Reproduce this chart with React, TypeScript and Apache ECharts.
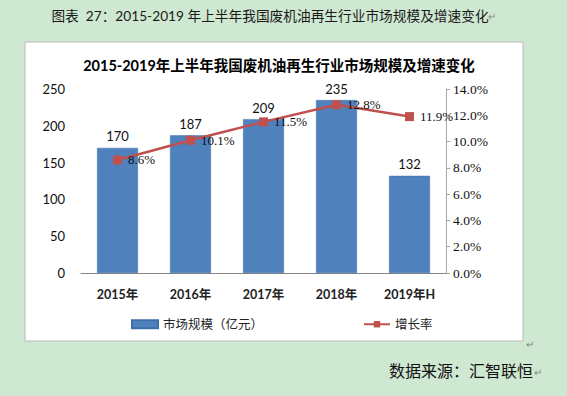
import React, { useEffect, useRef } from "react";
import * as echarts from "echarts";

const categories = ["2015年", "2016年", "2017年", "2018年", "2019年H"];
const marketSize = [170, 187, 209, 235, 132];
const growthRate = [8.6, 10.1, 11.5, 12.8, 11.9];
const caption = "图表  27：2015-2019 年上半年我国废机油再生行业市场规模及增速变化";
const chartTitle = "2015-2019年上半年我国废机油再生行业市场规模及增速变化";
const sourceText = "数据来源：汇智联恒";

export default function App() {
  const ref = useRef<HTMLDivElement>(null);
  useEffect(() => {
    if (!ref.current) return;
    const chart = echarts.init(ref.current, null, { renderer: "svg" });
    const font = "Lato, 'Noto Sans CJK SC', sans-serif";
    const serif = "'Liberation Serif', 'Noto Sans CJK SC', serif";
    chart.setOption({
      animation: false,
      backgroundColor: "#cfe8d1",
      textStyle: { fontFamily: font },
      graphic: [
        {
          type: "rect",
          shape: { x: 25, y: 42, width: 498, height: 299 },
          style: { fill: "#ffffff", stroke: "#b8b8b8", lineWidth: 1 },
          z: -10,
        },
        {
          type: "text",
          x: 270,
          y: 15,
          style: {
            text: caption,
            fill: "#1a1a1a",
            font: `13.7px ${font}`,
            align: "center",
            verticalAlign: "middle",
          },
        },
        {
          type: "text",
          x: 488,
          y: 16,
          style: { text: "↵", fill: "#888", font: `10px ${font}`, verticalAlign: "middle" },
        },
        {
          type: "text",
          x: 526,
          y: 344,
          style: { text: "↵", fill: "#888", font: `10px ${font}`, verticalAlign: "middle" },
        },
        {
          type: "text",
          x: 533,
          y: 370,
          style: {
            text: sourceText,
            fill: "#111",
            font: `16px ${font}`,
            align: "right",
            verticalAlign: "middle",
          },
        },
        {
          type: "text",
          x: 534,
          y: 372,
          style: { text: "↵", fill: "#888", font: `10px ${font}`, verticalAlign: "middle" },
        },
      ],
      title: {
        text: chartTitle,
        left: 274,
        top: 53,
        textAlign: "center",
        textStyle: { fontSize: 14.5, fontWeight: "bold", color: "#000", fontFamily: font },
      },
      grid: { left: 81, right: 121, top: 89, bottom: 123 },
      legend: {
        left: 126,
        top: 313,
        itemGap: 100,
        itemWidth: 26,
        itemHeight: 8,
        textStyle: { fontSize: 12.5, color: "#222", fontFamily: font },
        data: [
          { name: "市场规模（亿元）", icon: "rect" },
          { name: "增长率" },
        ],
      },
      xAxis: {
        type: "category",
        data: categories,
        axisLine: { lineStyle: { color: "#868686", width: 1 } },
        axisTick: { show: false },
        axisLabel: { fontSize: 12.5, fontWeight: "bold", color: "#222", margin: 15 },
      },
      yAxis: [
        {
          type: "value",
          min: 0,
          max: 250,
          interval: 50,
          axisLine: { show: false },
          axisTick: { show: false },
          splitLine: { show: false },
          axisLabel: { fontSize: 13, color: "#111", margin: 16 },
        },
        {
          type: "value",
          min: 0,
          max: 14,
          interval: 2,
          position: "right",
          axisLine: { show: true, lineStyle: { color: "#a6a6a6" } },
          axisTick: { show: true, inside: false, length: 4, lineStyle: { color: "#a6a6a6" } },
          splitLine: { show: false },
          axisLabel: {
            fontSize: 13.5,
            color: "#111",
            margin: 7,
            fontFamily: serif,
            formatter: (v: number) => v.toFixed(1) + "%",
          },
        },
      ],
      series: [
        {
          name: "市场规模（亿元）",
          type: "bar",
          data: marketSize,
          barWidth: "56%",
          itemStyle: { color: "#4f81bd", borderColor: "#3f6fa8", borderWidth: 0.5 },
          label: {
            show: true,
            position: "top",
            distance: 5,
            fontSize: 13,
            color: "#111",
          },
        },
        {
          name: "增长率",
          type: "line",
          yAxisIndex: 1,
          data: growthRate,
          symbol: "rect",
          symbolSize: 9,
          lineStyle: { color: "#c0504d", width: 2.5 },
          itemStyle: { color: "#c0504d" },
          label: {
            show: true,
            position: "right",
            distance: 6,
            fontSize: 13,
            color: "#111",
            fontFamily: serif,
            formatter: (p: any) => p.value.toFixed(1) + "%",
          },
        },
      ],
    });
    return () => chart.dispose();
  }, []);
  return (
    <div
      ref={ref}
      style={{ position: "fixed", left: 0, top: 0, width: 567, height: 396 }}
    />
  );
}
